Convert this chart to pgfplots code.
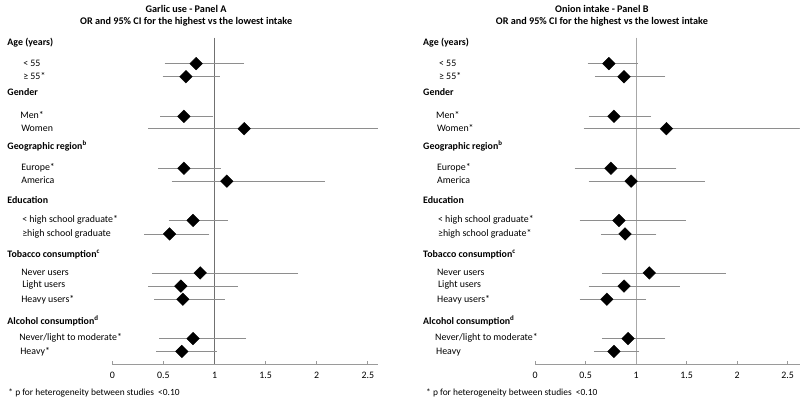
\documentclass[border=0pt]{standalone}
\usepackage{fontspec}
\setmainfont{Carlito}
\usepackage{pgfplots}
\pgfplotsset{compat=1.18}
\usepackage{pgfplotstable}
\definecolor{cigray}{HTML}{8E8E8E}
\definecolor{axgray}{HTML}{9A9A9A}
\definecolor{refA}{HTML}{707070}
\definecolor{refB}{HTML}{A8A8A8}

% y = -(pixel row), or = odds ratio, lo/hi = 95% CI
\pgfplotstableread{
y      or    lo    hi
-64.3  0.82  0.53  1.27
-77.5  0.72  0.51  1.03
-117.5 0.70  0.49  0.97
-130.0 1.29  0.37  2.60
-170.0 0.70  0.47  1.04
-183.0 1.12  0.60  2.06
-222.7 0.79  0.57  1.11
-236.3 0.56  0.33  0.93
-275.7 0.86  0.41  1.80
-289.0 0.67  0.37  1.21
-302.3 0.69  0.43  1.08
-342.0 0.79  0.48  1.29
-355.0 0.68  0.45  1.00
}\dataA

\pgfplotstableread{
y      or    lo    hi
-64.3  0.73  0.54  1.00
-77.5  0.88  0.61  1.27
-117.5 0.78  0.55  1.13
-130.0 1.30  0.50  2.62
-170.0 0.75  0.41  1.38
-183.0 0.95  0.55  1.66
-222.7 0.83  0.46  1.47
-236.3 0.89  0.67  1.18
-275.7 1.13  0.68  1.87
-289.0 0.88  0.55  1.41
-302.3 0.71  0.46  1.08
-342.0 0.92  0.68  1.27
-355.0 0.78  0.60  1.01
}\dataB

\pgfplotsset{
  forest/.style={
    anchor=south west, y=1pt,
    ymin=-368, ymax=-38,
    axis x line=bottom, axis y line=none,
    axis line style={axgray, line width=0.6pt, -},
    xtick={0,0.5,1,1.5,2,2.5},
    tick align=inside, major tick length=3pt,
    tick style={axgray, line width=0.6pt},
    scaled ticks=false,
    /pgf/number format/assume math mode=true,
    ticklabel style={font=\fontsize{10}{12}\selectfont, yshift=-4pt},
    clip mode=individual,
  },
  fp/.style={
    only marks, mark=square*, mark size=4.5pt,
    mark options={rotate=45, fill=black, draw=black},
    error bars/.cd, x dir=both, x explicit,
      error bar style={cigray, line width=0.7pt},
      error mark options={cigray, mark size=2pt, line width=0.6pt},
  },
}

\begin{document}
\begin{tikzpicture}[x=1pt,y=1pt]
\tikzset{every node/.append style={font=\fontsize{10}{12}\selectfont}}

% ---------- Panel A ----------
\begin{axis}[forest, at={(110,-368)}, x=103.2pt, xmin=0, xmax=2.6]
  \addplot[refA, line width=0.6pt] coordinates {(1,-38) (1,-368)};
  \addplot[fp] table[x=or, y=y,
     x error plus expr=\thisrow{hi}-\thisrow{or},
     x error minus expr=\thisrow{or}-\thisrow{lo}] {\dataA};
\end{axis}

% ---------- Panel B ----------
\begin{axis}[forest, at={(530,-368)}, x=102pt, xmin=0, xmax=2.62]
  \addplot[refB, line width=0.6pt] coordinates {(1,-38) (1,-368)};
  \addplot[fp] table[x=or, y=y,
     x error plus expr=\thisrow{hi}-\thisrow{or},
     x error minus expr=\thisrow{or}-\thisrow{lo}] {\dataB};
\end{axis}

% titles
\node[align=center, font=\fontsize{10.3}{12.5}\selectfont\bfseries] at (188,-16)
  {Garlic use - Panel A\\OR and 95\% CI for the highest vs the lowest intake};
\node[align=center, font=\fontsize{10.3}{12.5}\selectfont\bfseries] at (608,-16)
  {Onion intake - Panel B\\OR and 95\% CI for the highest vs the lowest intake};

% row labels, both panels
\foreach \hx/\ix/\w/\hs/\last in {4/18/Women/≥high school graduate/Heavy*, 424/438/Women*/≥high school graduate*/Heavy}{
  \node[anchor=mid west] at (\hx,-43.3) {\textbf{Age (years)}};
  \node[anchor=mid west] at (\ix+2,-64.3) {< 55};
  \node[anchor=mid west] at (\ix+2,-77.5) {≥ 55*};
  \node[anchor=mid west] at (\hx,-94) {\textbf{Gender}};
  \node[anchor=mid west] at (\ix-1,-117.3) {Men*};
  \node[anchor=mid west] at (\ix,-130) {\w};
  \node[anchor=mid west] at (\hx,-148.3) {\textbf{Geographic region\textsuperscript{b}}};
  \node[anchor=mid west] at (\ix,-170) {Europe*};
  \node[anchor=mid west] at (\ix,-182.5) {America};
  \node[anchor=mid west] at (\hx,-202.7) {\textbf{Education}};
  \node[anchor=mid west] at (\ix+1,-222.7) {< high school graduate*};
  \node[anchor=mid west] at (\ix+1,-236.5) {\hs};
  \node[anchor=mid west] at (\hx,-257.7) {\textbf{Tobacco consumption\textsuperscript{c}}};
  \node[anchor=mid west] at (\ix,-275.7) {Never users};
  \node[anchor=mid west] at (\ix+1,-288.3) {Light users};
  \node[anchor=mid west] at (\ix,-302.7) {Heavy users*};
  \node[anchor=mid west] at (\hx,-325) {\textbf{Alcohol consumption\textsuperscript{d}}};
  \node[anchor=mid west] at (\ix-2,-341.7) {Never/light to moderate*};
  \node[anchor=mid west] at (\ix-1,-355.7) {\last};
}

% footnotes
\node[anchor=mid west, font=\fontsize{9.5}{11}\selectfont] at (5,-397) {* p for heterogeneity between studies~~<0.10};
\node[anchor=mid west, font=\fontsize{9.5}{11}\selectfont] at (427,-397) {* p for heterogeneity between studies~~<0.10};

% page frame (invisible)
\path (0,0) rectangle (800,-408);
\end{tikzpicture}
\end{document}
